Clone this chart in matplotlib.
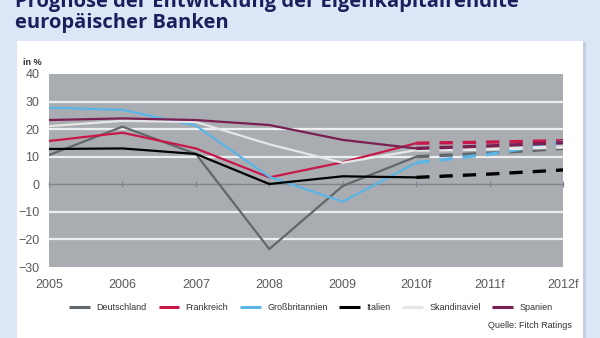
'''
Prognose der Eigenkapitalrendite europaeischer Banken (Fitch Ratings).
'''

import numpy as np
import matplotlib as mpl
mpl.use('Agg')
from matplotlib import pyplot as plt
from matplotlib.patches import Rectangle

mpl.rcParams['font.family'] = ['Liberation Sans', 'DejaVu Sans']

#(0) Data:
years       = ['2005', '2006', '2007', '2008', '2009', '2010f', '2011f', '2012f']
n_actual    = 6        # 2005 .. 2010f drawn solid, the rest dashed
deutschland = [10.6, 20.9, 11.0, -23.5, -0.6, 10.0, 11.3, 13.0]
frankreich  = [15.7, 18.7, 13.0, 2.5, 8.0, 14.9, 15.3, 15.8]
grossbrit   = [27.8, 27.0, 21.3, 2.7, -6.3, 7.8, 10.9, 15.4]
italien     = [12.8, 13.0, 11.0, 0.1, 2.9, 2.5, 3.7, 5.2]
skandinav   = [21.1, 23.0, 22.6, 14.5, 7.8, 12.4, 12.8, 13.5]
spanien     = [23.3, 23.9, 23.3, 21.5, 16.1, 13.0, 13.9, 15.1]

series  = [deutschland, frankreich, grossbrit, italien, skandinav, spanien]
names   = ['Deutschland', 'Frankreich', 'Großbritannien', 'Italien', 'Skandinaviel', 'Spanien']
colors  = ['#62676b', '#c8184a', '#5bb5e6', '#000000', '#e6e6e6', '#7a1f52']

yticks  = [-30, -20, -10, 0, 10, 20, 30, 40]

bg      = '#dce6f7'
plotbg  = '#a9adb2'
navy    = '#1b1f5c'


#(1) Plot:
plt.close('all')
fig = plt.figure(figsize=(6, 3.38), dpi=100, facecolor=bg)
### white panel with a soft shadow:
W, H = 600., 338.
fig.patches.append(Rectangle((18/W, 0), 568/W, 1-42/H, transform=fig.transFigure,
                             facecolor='#c4cee0', edgecolor='none', zorder=-2))
fig.patches.append(Rectangle((17/W, 0), 566/W, 1-41/H, transform=fig.transFigure,
                             facecolor='white', edgecolor='none', zorder=-1))

ax = fig.add_axes([49/W, 1-267/H, (563-49)/W, (267-74)/H])
ax.set_zorder(2)
ax.set_facecolor(plotbg)
x = np.arange(len(years))
for y, c, name in zip(series, colors, names):
	y = np.asarray(y)
	ax.plot(x[:n_actual], y[:n_actual], color=c, lw=1.6, label=name, solid_capstyle='butt')
	ax.plot(x[n_actual-1:], y[n_actual-1:], color=c, lw=2.4, ls=(0, (4, 3)))

ax.set_xlim(0, len(years)-1)
ax.set_ylim(-30, 40)
ax.set_yticks(yticks)
ax.set_xticks(x)
ax.set_xticklabels(years)
for yy in yticks:
	if yy not in (0, 40, -30):
		ax.axhline(yy, color='#eceef0', lw=1.6, zorder=0.5)
for s in ['left', 'right', 'bottom']:
	ax.spines[s].set_visible(False)
### zero line with small ticks, using the top spine:
ax.spines['top'].set_position(('data', 0))
ax.spines['top'].set_color('#80848a')
ax.spines['top'].set_linewidth(1.0)
ax.spines['top'].set_zorder(0.6)
ax.tick_params(axis='x', which='both', top=True, bottom=False, labeltop=False, labelbottom=True,
               direction='inout', length=5, width=0.8, color='#80848a', labelsize=9,
               labelcolor='#5a5a5a', pad=6)
ax.tick_params(axis='y', length=0, labelsize=9, labelcolor='#5a5a5a', pad=7)
ax.text(-0.05, 1.035, 'in %', transform=ax.transAxes, fontsize=6.5, color='#333333',
        fontweight='bold', ha='left', va='bottom')

### legend:
leg = ax.legend(loc='center', bbox_to_anchor=(311/W, 1-308/H), bbox_transform=fig.transFigure,
                ncol=6, frameon=False, fontsize=6.5, handlelength=2.3, handletextpad=0.7,
                columnspacing=1.3, borderaxespad=0)
for t in leg.get_texts():
	t.set_color('#333333')
for l in leg.get_lines():
	l.set_linewidth(2.2)

fig.text(572/W, 1-326/H, 'Quelle: Fitch Ratings', fontsize=6.5, color='#333333', ha='right', va='center')

### title (first line is cut by the top edge, as in the original):
fig.text(15/W, 1-7/H, 'Prognose der Entwicklung der Eigenkapitalrendite', fontsize=14.5,
         fontweight='bold', color=navy, ha='left', va='baseline', family=['Open Sans', 'DejaVu Sans'])
fig.text(15/W, 1-28/H, 'europäischer Banken', fontsize=14.5,
         fontweight='bold', color=navy, ha='left', va='baseline', family=['Open Sans', 'DejaVu Sans'])

fig.savefig('out.png', dpi=100, facecolor=bg)
